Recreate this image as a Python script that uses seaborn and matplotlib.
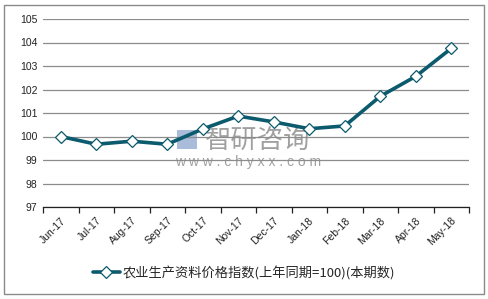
import matplotlib
matplotlib.use("Agg")
import matplotlib.pyplot as plt
import seaborn as sns
import pandas as pd
from matplotlib.patches import Rectangle

months = ["Jun-17", "Jul-17", "Aug-17", "Sep-17", "Oct-17", "Nov-17",
          "Dec-17", "Jan-18", "Feb-18", "Mar-18", "Apr-18", "May-18"]
values = [100.0, 99.67, 99.8, 99.67, 100.32, 100.87,
          100.62, 100.33, 100.45, 101.71, 102.56, 103.75]
series_name = "农业生产资料价格指数(上年同期=100)(本期数)"
y_ticks = [97, 98, 99, 100, 101, 102, 103, 104, 105]

sns.set_theme(style="white")
plt.rcParams['font.family'] = ['Liberation Sans', 'Noto Sans CJK SC', 'DejaVu Sans']

df = pd.DataFrame({"month": months, "value": values, "series": series_name})

fig = plt.figure(figsize=(4.88, 2.99), dpi=100)
ax = fig.add_axes([43/488, 1-207/299, (469-43)/488, (207-19)/299])
ax.patch.set_visible(False)

color = "#0b5a6e"
sns.lineplot(data=df, x="month", y="value", hue="series", palette=[color],
             sort=False, ax=ax, linewidth=2.6, marker="D", markersize=6.5,
             markerfacecolor="white", markeredgecolor=color, markeredgewidth=0.9)

ax.set_xlim(-0.5, len(months) - 0.5)
ax.set_ylim(97, 105)
ax.set_yticks(y_ticks)
ax.set_yticklabels([str(v) for v in y_ticks], fontsize=7.5, color="#222222")
ax.yaxis.grid(True, color="#8c8c8c", linewidth=0.9)
ax.set_axisbelow(True)
ax.tick_params(axis="y", length=0, pad=4)

ax.set_xticks(range(len(months)))
ax.set_xticklabels(months, rotation=45, ha="right", rotation_mode="anchor",
                   fontsize=7.5, color="#222222")
ax.tick_params(axis="x", which="major", length=0, pad=6)
ax.set_xticks([i - 0.5 for i in range(len(months) + 1)], minor=True)
ax.tick_params(axis="x", which="minor", length=4, width=0.9, color="#222222",
               direction="out", bottom=True)

for s in ["top", "right", "left"]:
    ax.spines[s].set_visible(False)
ax.spines["bottom"].set_color("#222222")
ax.spines["bottom"].set_linewidth(0.9)
ax.set_xlabel("")
ax.set_ylabel("")

handles, labels = ax.get_legend_handles_labels()
ax.legend(handles=handles, labels=labels, loc="center",
          bbox_to_anchor=(0.5, 1 - 273/299), bbox_transform=fig.transFigure,
          frameon=False, handlelength=2.0, handletextpad=0.2,
          prop={'family': ['Noto Sans CJK SC', 'DejaVu Sans'], 'size': 9.5})

# watermark (behind the data)
fig.text(205/488, 1 - 140/299, "智研咨询", fontsize=19, color="#a0a0a0",
         family=['Noto Sans CJK SC'], ha="left", va="center", zorder=-1)
fig.text(175/488, 1 - 162/299, "w w w . c h y x x . c o m", fontsize=10, color="#a0a0a0",
         ha="left", va="center", zorder=-1)
fig.patches.append(Rectangle((177/488, 1-149/299), 20/488, 19/299, transform=fig.transFigure,
                             fill=True, facecolor="#a9bcd9", edgecolor="none", zorder=-1))

fig.patches.append(Rectangle((4/488, 1-294/299), 480/488, 289/299, transform=fig.transFigure,
                             fill=False, edgecolor="#8a8a8a", linewidth=1.0))

fig.savefig("out.png", dpi=100)
